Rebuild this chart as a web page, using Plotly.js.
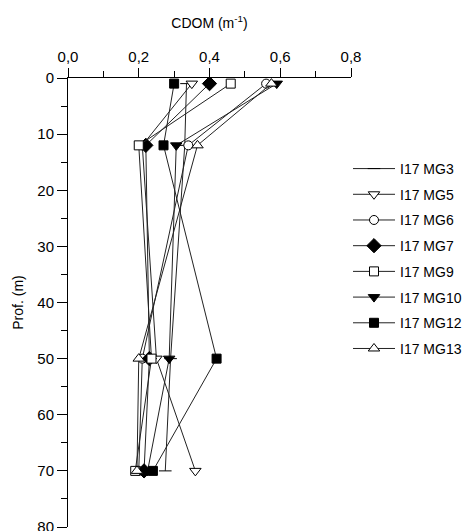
<!DOCTYPE html>
<html>
<head>
<meta charset="utf-8">
<script src="https://cdn.plot.ly/plotly-3.0.1.min.js"></script>
<style>html,body{margin:0;padding:0;background:#fff;}#chart{width:467px;height:531px;}</style>
</head>
<body>
<div id="chart"></div>
<script>
// Depth (m) of each sample
const depth = [1, 12, 50, 70];
// CDOM (m^-1) per station
const seriesNames = ["I17 MG3", "I17 MG5", "I17 MG6", "I17 MG7", "I17 MG9", "I17 MG10", "I17 MG12", "I17 MG13"];
const mg3  = [0.335, 0.33, 0.29, 0.275];
const mg5  = [0.35, 0.21, 0.25, 0.36];
const mg6  = [0.56, 0.34, 0.21, 0.20];
const mg7  = [0.40, 0.22, 0.23, 0.215];
const mg9  = [0.46, 0.20, 0.236, 0.19];
const mg10 = [0.59, 0.306, 0.286, 0.225];
const mg12 = [0.30, 0.27, 0.42, 0.24];
const mg13 = [0.575, 0.366, 0.20, 0.195];
const xTickVals = [0, 0.2, 0.4, 0.6, 0.8];
const yTickVals = [0, 10, 20, 30, 40, 50, 60, 70, 80];

const values = [mg3, mg5, mg6, mg7, mg9, mg10, mg12, mg13];
const styles = [
  {symbol: "line-ew", size: 9, color: "#000"},
  {symbol: "triangle-down", size: 10, color: "#fff"},
  {symbol: "circle", size: 9, color: "#fff"},
  {symbol: "diamond", size: 11, color: "#000"},
  {symbol: "square", size: 9, color: "#fff"},
  {symbol: "triangle-down", size: 10, color: "#000"},
  {symbol: "square", size: 9, color: "#000"},
  {symbol: "triangle-up", size: 10, color: "#fff"}
];

const traces = values.map((v, i) => ({
  x: v,
  y: depth,
  name: seriesNames[i],
  legendgroup: "g" + i,
  type: "scatter",
  mode: "lines+markers",
  line: {color: "#222", width: 1},
  marker: {symbol: styles[i].symbol, size: styles[i].size, color: styles[i].color,
           line: {color: "#000", width: 1}}
}));

const fam = "Liberation Sans, Arial, sans-serif";

const layout = {
  width: 467, height: 531,
  margin: {l: 68, r: 0, t: 78, b: 4},
  paper_bgcolor: "#fff", plot_bgcolor: "#fff",
  separators: ",.",
  font: {family: fam, size: 15, color: "#000"},
  showlegend: true,
  legend: {x: 1, xanchor: "right", y: 0.833, yanchor: "top",
           font: {family: fam, size: 14, color: "#000"},
           itemwidth: 42, traceorder: "grouped", tracegroupgap: 4.5,
           bgcolor: "rgba(0,0,0,0)"},
  xaxis: {
    domain: [0, 0.7093],
    side: "top", range: [0, 0.8], autorange: false,
    tickvals: xTickVals, tickformat: ".1f",
    ticks: "outside", ticklen: 9, tickwidth: 1, tickcolor: "#000",
    minor: {dtick: 0.1, ticks: "outside", ticklen: 6, tickwidth: 1, tickcolor: "#000", showgrid: false},
    showline: true, linecolor: "#000", linewidth: 1,
    showgrid: false, zeroline: false,
    tickfont: {family: fam, size: 15, color: "#000"},
    title: {text: "CDOM (m<sup>-1</sup>)", font: {family: fam, size: 14, color: "#000"}, standoff: 16}
  },
  yaxis: {
    range: [80, 0], autorange: false,
    tickvals: yTickVals,
    ticks: "outside", ticklen: 10, tickwidth: 1, tickcolor: "#000",
    ticklabeloverflow: "allow",
    minor: {dtick: 5, ticks: "outside", ticklen: 6, tickwidth: 1, tickcolor: "#000", showgrid: false},
    showline: true, linecolor: "#000", linewidth: 1,
    showgrid: false, zeroline: false,
    tickfont: {family: fam, size: 15, color: "#000"},
    title: {text: "Prof. (m)", font: {family: fam, size: 14, color: "#000"}, standoff: 10}
  }
};

Plotly.newPlot("chart", traces, layout, {displayModeBar: false, staticPlot: true});
</script>
</body>
</html>
